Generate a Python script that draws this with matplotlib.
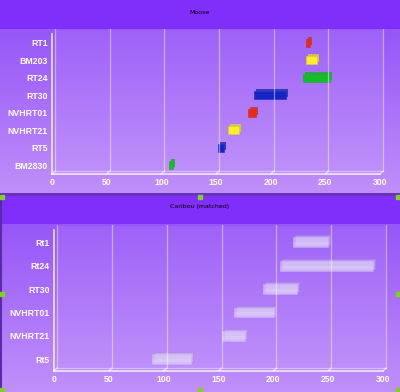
import matplotlib
matplotlib.use("Agg")
import matplotlib.pyplot as plt
import numpy as np
from matplotlib.patches import Rectangle
from matplotlib.transforms import offset_copy

# data (bottom row first)
moose_labels = ["BM2830", "RT5", "NVHRT21", "NVHRT01", "RT30", "RT24", "BM203", "RT1"]
moose_start = [107, 152, 161, 179, 185, 230, 232, 232]
moose_end = [111, 157, 171, 187, 214, 254, 242, 236]
moose_colors = ["#14be2a", "#1424c8", "#fcee2c", "#e8281a",
                "#1424c8", "#14be2a", "#fcee2c", "#e8281a"]

caribou_labels = ["Rt5", "NVHRT21", "NVHRT01", "RT30", "Rt24", "Rt1"]
caribou_start = [89, 153, 164, 191, 206, 218]
caribou_end = [125, 174, 201, 222, 291, 250]

x_ticks = [0, 50, 100, 150, 200, 250, 300]

W, H = 400, 392
fig = plt.figure(figsize=(W / 100, H / 100), dpi=100)

# background gradient, built row by row in pixels
header = np.array([128, 46, 250]) / 255
top_col = np.array([150, 86, 248]) / 255
bot_col = np.array([192, 144, 250]) / 255
rows = np.zeros((H, 1, 3))
for y0, y1 in [(0, 195), (195, H)]:
    rows[y0:y0 + 29, 0] = header
    n = y1 - (y0 + 29)
    t = np.linspace(0, 1, n)[:, None]
    rows[y0 + 29:y1, 0] = top_col * (1 - t) + bot_col * t
rows[193:196, 0] = np.array([104, 50, 190]) / 255
bg = fig.add_axes([0, 0, 1, 1])
bg.imshow(rows, aspect="auto", extent=[0, W, H, 0])
bg.set_xlim(0, W)
bg.set_ylim(H, 0)
bg.axis("off")
bg.plot([0.8, 0.8], [195, H], color="#5a2aa8", lw=1.5)
for hx, hy in [(0, 195), (198, 195), (396, 195), (0, 292), (396, 292),
               (0, 388), (198, 388), (396, 388)]:
    bg.add_patch(Rectangle((hx, hy), 4, 4, color="#7ed321", zorder=5))

fig.text(0.5, 1 - 12 / H, "Moose", ha="center", va="center", fontsize=4.5, color="black")
fig.text(0.5, 1 - 207 / H, "Caribou (matched)", ha="center", va="center",
         fontsize=4.5, color="black")


def draw_panel(rect, labels, start, end, colors, glass):
    ax = fig.add_axes(rect)
    ax.patch.set_alpha(0)
    ax.set_xlim(0, 300)
    ax.set_ylim(-0.5, len(labels) - 0.5)
    back = offset_copy(ax.transAxes, fig=fig, x=3, y=3, units="dots")
    ax.add_patch(Rectangle((0, 0), 1, 1.01, transform=back, facecolor="white",
                           alpha=0.07, edgecolor="none", clip_on=False))

    shift = offset_copy(ax.transData, fig=fig, x=3, y=3, units="dots")
    top = len(labels) - 0.4
    for t in x_ticks:
        ax.plot([t, t], [-0.5, top], transform=shift,
                color="white", alpha=0.45, lw=0.9, clip_on=False)
        ax.annotate("", xy=(t, -0.5), xytext=(3, 3), textcoords="offset pixels",
                    arrowprops=dict(arrowstyle="-", color="white", alpha=0.6,
                                    lw=1, shrinkA=0, shrinkB=0))
    ax.plot([0, 300], [-0.5, -0.5], transform=shift, color="white",
            alpha=0.45, lw=0.9, clip_on=False)

    ypos = np.arange(len(labels))
    widths = np.array(end) - np.array(start)
    if glass:
        h = 0.42
        depth = offset_copy(ax.transData, fig=fig, x=2, y=2, units="dots")
        ax.barh(ypos, widths, left=start, height=h, transform=depth,
                color="#cfbdf0", alpha=0.55, edgecolor="#9c84cc", lw=0.5)
        ax.barh(ypos, widths, left=start, height=h, color="#e4d8fb",
                alpha=0.55, edgecolor="#cdbdf0", lw=0.5)
        ax.barh(ypos - h * 0.25, widths, left=start, height=h * 0.5,
                color="white", alpha=0.12, lw=0)
    else:
        h = 0.48
        shade = [matplotlib.colors.to_rgb(c) for c in colors]
        dark = [tuple(0.75 * np.array(c) + 0.1) for c in shade]
        ax.barh(ypos, widths, left=start, height=h, transform=offset_copy(
            ax.transData, fig=fig, x=2, y=2, units="dots"),
            color=dark, alpha=0.9, lw=0)
        ax.barh(ypos, widths, left=start, height=h, color=colors,
                edgecolor=dark, lw=0.5)

    for s in ["top", "right"]:
        ax.spines[s].set_visible(False)
    for s in ["left", "bottom"]:
        ax.spines[s].set_color((1, 1, 1, 0.75))
        ax.spines[s].set_linewidth(1.3)
    ax.set_xticks(x_ticks)
    ax.set_yticks(ypos)
    ax.set_yticklabels(labels)
    ax.tick_params(length=0, colors="white", pad=3)
    for lab in ax.get_xticklabels() + ax.get_yticklabels():
        lab.set_fontweight("bold")
        lab.set_family("Liberation Sans")
    for lab in ax.get_yticklabels():
        lab.set_fontsize(6.3)
    for lab in ax.get_xticklabels():
        lab.set_fontsize(6.2)
    return ax


draw_panel([52 / W, 1 - 174 / H, 328 / W, 140 / H], moose_labels,
           moose_start, moose_end, moose_colors, glass=False)
draw_panel([54 / W, 1 - 371 / H, 329 / W, 140.5 / H], caribou_labels,
           caribou_start, caribou_end, None, glass=True)

fig.savefig("out.png", dpi=100)
